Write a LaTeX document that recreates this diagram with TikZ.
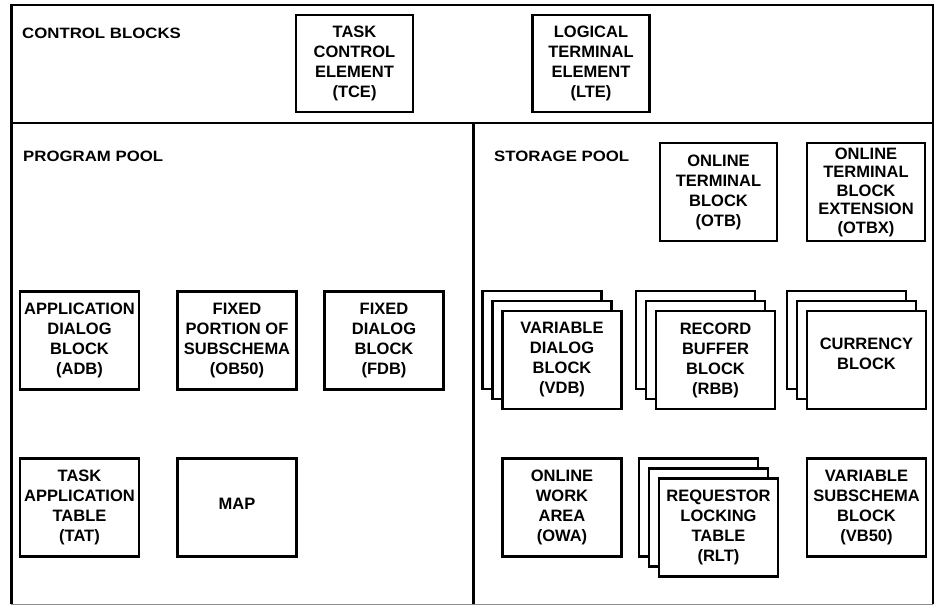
\documentclass[tikz,border=0pt]{standalone}
\usepackage{fontspec}
\setmainfont{Liberation Sans}
\newfontfamily\labelfont[FakeStretch=1.12]{Liberation Sans}
\begin{document}
\begin{tikzpicture}[x=1pt,y=-1pt,
  blk/.style={draw, fill=white, line width=2.7pt, minimum width=119pt, minimum height=98pt,
    inner sep=0pt, align=center, font=\fontsize{16.5}{20}\selectfont\bfseries},
  blktext/.style={inner sep=0pt, align=center, font=\fontsize{16.5}{20}\selectfont\bfseries},
  seclabel/.style={anchor=base west, inner sep=0pt, font=\fontsize{15}{18}\labelfont\bfseries},
  frameline/.style={line cap=rect}]
\useasboundingbox (0,0) rectangle (935,605);
% frame
\draw[frameline, line width=2pt] (11,5) -- (933,5);
\draw[frameline, line width=2pt] (11,123) -- (933,123);
\draw[line width=1pt, black!45] (11,604) -- (933,604);
\draw[line width=3pt] (11,4) -- (11,604);
\draw[line width=1.5pt] (933,4) -- (933,604);
\draw[line width=3pt] (473,123) -- (473,604);
% section labels
\node[seclabel] (lcb) at (22,38) {CONTROL BLOCKS};
\node[seclabel] (lpp) at (23,161) {PROGRAM POOL};
\node[seclabel] (lsp) at (494,161) {STORAGE POOL};
% control blocks
\node[blk, minimum width=117pt, minimum height=97pt] (tce) at (354.5,63.5) {TASK\\CONTROL\\ELEMENT\\(TCE)};
\node[blk, minimum width=117pt, minimum height=97pt] (lte) at (591,63.5) {LOGICAL\\TERMINAL\\ELEMENT\\(LTE)};
% program pool
\node[blk] (adb) at (79.5,340.5) {APPLICATION\\DIALOG\\BLOCK\\(ADB)};
\node[blk] (ob50) at (237,340.5) {FIXED\\PORTION OF\\SUBSCHEMA\\(OB50)};
\node[blk] (fdb) at (384,340.5) {FIXED\\DIALOG\\BLOCK\\(FDB)};
\node[blk] (tat) at (79.5,507.5) {TASK\\APPLICATION\\TABLE\\(TAT)};
\node[blk] (map) at (237,507.5) {};
\node[blktext] (mapt) at (237,504) {MAP};
% storage pool
\node[blk, minimum width=117pt] (otb) at (718.5,192) {ONLINE\\TERMINAL\\BLOCK\\(OTB)};
\node[blk, minimum width=118pt, font=\fontsize{16.5}{18.5}\selectfont\bfseries] (otbx) at (866,192) {ONLINE\\TERMINAL\\BLOCK\\EXTENSION\\(OTBX)};
% stacks
\node[blk] (vdbc) at (542,340) {};
\node[blk] (vdbb) at (552,350) {};
\node[blk] (vdb) at (562,360) {VARIABLE\\DIALOG\\BLOCK\\(VDB)};
\node[blk] (rbbc) at (695.5,340) {};
\node[blk] (rbbb) at (705.5,350) {};
\node[blk] (rbb) at (715.5,360) {RECORD\\BUFFER\\BLOCK\\(RBB)};
\node[blk] (curc) at (846.5,340) {};
\node[blk] (curb) at (856.5,350) {};
\node[blk] (cur) at (866.5,360) {};
\node[blktext] (curt) at (866.5,354) {CURRENCY\\BLOCK};
\node[blk] (owa) at (562,507.5) {ONLINE\\WORK\\AREA\\(OWA)};
\node[blk] (rltc) at (698.5,507.5) {};
\node[blk] (rltb) at (708.5,517.5) {};
\node[blk] (rlt) at (718.5,527.5) {REQUESTOR\\LOCKING\\TABLE\\(RLT)};
\node[blk] (vb50) at (866.5,507.5) {VARIABLE\\SUBSCHEMA\\BLOCK\\(VB50)};
\end{tikzpicture}
\end{document}
